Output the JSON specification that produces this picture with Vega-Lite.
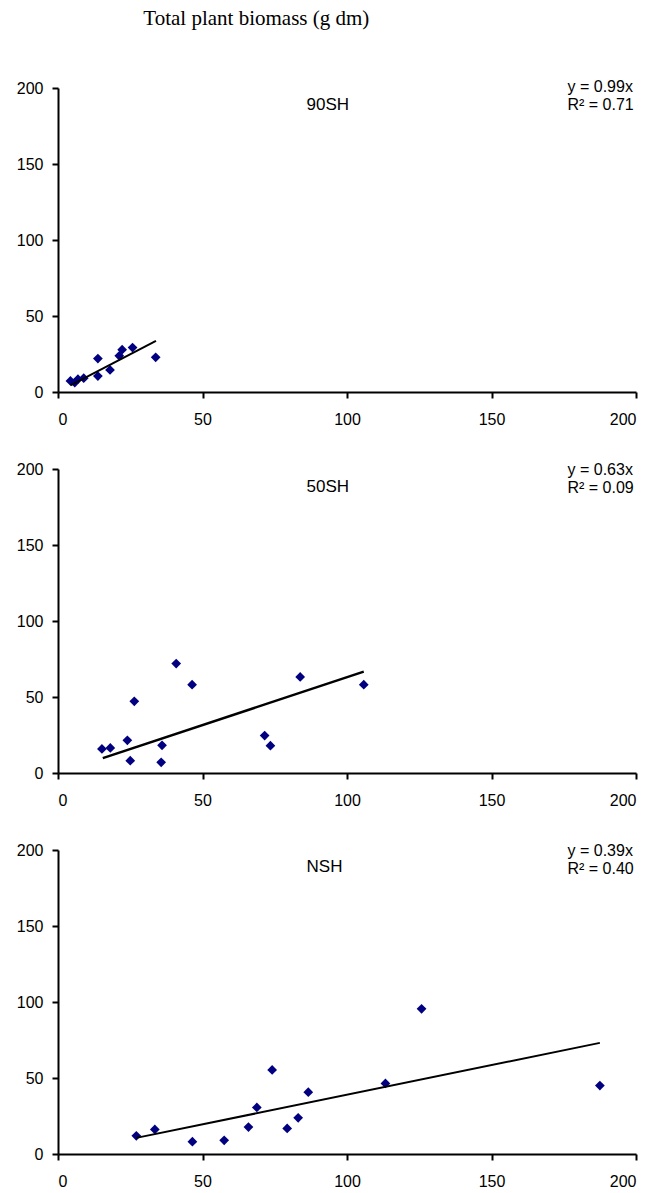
{
  "$schema": "https://vega.github.io/schema/vega-lite/v6.json",
  "padding": {"left": 16, "top": 8, "right": 5, "bottom": 2},
  "background": "white",
  "title": {
    "text": "Total plant biomass (g dm)",
    "font": "Liberation Serif",
    "fontSize": 21,
    "fontWeight": "normal",
    "color": "black",
    "anchor": "start",
    "dx": 127,
    "offset": 50
  },
  "config": {
    "view": {"stroke": null},
    "axis": {
      "domainColor": "black",
      "domainWidth": 2,
      "tickColor": "black",
      "tickWidth": 2,
      "tickSize": 6,
      "labelFont": "Liberation Sans",
      "labelFontSize": 16,
      "labelColor": "black",
      "grid": false,
      "title": null
    },
    "axisX": {"labelPadding": 13},
    "axisY": {"labelPadding": 9}
  },
  "datasets": {
    "pts": [
      {"panel": "90SH", "x": 4.3, "y": 7.3},
      {"panel": "90SH", "x": 5.8, "y": 6.2},
      {"panel": "90SH", "x": 6.9, "y": 8.4},
      {"panel": "90SH", "x": 8.9, "y": 9.1},
      {"panel": "90SH", "x": 13.8, "y": 22.0},
      {"panel": "90SH", "x": 13.8, "y": 10.5},
      {"panel": "90SH", "x": 18.0, "y": 14.5},
      {"panel": "90SH", "x": 21.2, "y": 23.8},
      {"panel": "90SH", "x": 22.2, "y": 27.8},
      {"panel": "90SH", "x": 25.8, "y": 29.2},
      {"panel": "90SH", "x": 33.8, "y": 22.8},
      {"panel": "50SH", "x": 15.2, "y": 15.8},
      {"panel": "50SH", "x": 18.1, "y": 16.5},
      {"panel": "50SH", "x": 24.0, "y": 21.5},
      {"panel": "50SH", "x": 25.0, "y": 8.1},
      {"panel": "50SH", "x": 26.4, "y": 47.2},
      {"panel": "50SH", "x": 36.0, "y": 18.2},
      {"panel": "50SH", "x": 35.7, "y": 7.0},
      {"panel": "50SH", "x": 40.9, "y": 72.0},
      {"panel": "50SH", "x": 46.4, "y": 58.1},
      {"panel": "50SH", "x": 71.5, "y": 24.6},
      {"panel": "50SH", "x": 73.5, "y": 18.0},
      {"panel": "50SH", "x": 83.8, "y": 63.2},
      {"panel": "50SH", "x": 105.8, "y": 58.1},
      {"panel": "NSH", "x": 27.1, "y": 12.0},
      {"panel": "NSH", "x": 33.5, "y": 16.2},
      {"panel": "NSH", "x": 46.5, "y": 8.1},
      {"panel": "NSH", "x": 57.5, "y": 9.0},
      {"panel": "NSH", "x": 65.9, "y": 17.7},
      {"panel": "NSH", "x": 68.8, "y": 30.6},
      {"panel": "NSH", "x": 74.1, "y": 55.3},
      {"panel": "NSH", "x": 79.3, "y": 16.8},
      {"panel": "NSH", "x": 83.1, "y": 23.8},
      {"panel": "NSH", "x": 86.6, "y": 40.7},
      {"panel": "NSH", "x": 113.3, "y": 46.4},
      {"panel": "NSH", "x": 125.8, "y": 95.5},
      {"panel": "NSH", "x": 187.5, "y": 45.0}
    ],
    "fit": [
      {"panel": "90SH", "x": 4.3, "y": 4.3},
      {"panel": "90SH", "x": 33.9, "y": 33.6},
      {"panel": "50SH", "x": 15.5, "y": 9.8},
      {"panel": "50SH", "x": 105.8, "y": 66.7},
      {"panel": "NSH", "x": 27.1, "y": 10.6},
      {"panel": "NSH", "x": 187.5, "y": 73.1}
    ],
    "ann": [
      {"panel": "90SH", "label": "90SH", "eq": "y = 0.99x\nR² = 0.71"},
      {"panel": "50SH", "label": "50SH", "eq": "y = 0.63x\nR² = 0.09"},
      {"panel": "NSH", "label": "NSH", "eq": "y = 0.39x\nR² = 0.40"}
    ]
  },
  "spacing": 34,
  "vconcat": [
    {
      "width": 578, "height": 304,
      "layer": [
        {"data": {"name": "pts"}, "transform": [{"filter": "datum.panel === '90SH'"}],
         "mark": {"type": "point", "shape": "diamond", "filled": true, "color": "#000080", "opacity": 1, "size": 95},
         "encoding": {
           "x": {"field": "x", "type": "quantitative", "scale": {"domain": [0, 200], "nice": false}, "axis": {"values": [0, 50, 100, 150, 200]}},
           "y": {"field": "y", "type": "quantitative", "scale": {"domain": [0, 200], "nice": false}, "axis": {"values": [0, 50, 100, 150, 200]}}}},
        {"data": {"name": "fit"}, "transform": [{"filter": "datum.panel === '90SH'"}],
         "mark": {"type": "line", "color": "black", "strokeWidth": 2},
         "encoding": {"x": {"field": "x", "type": "quantitative"}, "y": {"field": "y", "type": "quantitative"}}},
        {"data": {"name": "ann"}, "transform": [{"filter": "datum.panel === '90SH'"}],
         "mark": {"type": "text", "align": "left", "baseline": "middle", "font": "Liberation Sans", "fontSize": 17, "color": "black"},
         "encoding": {"text": {"field": "label"}, "x": {"datum": 86}, "y": {"datum": 189}}},
        {"data": {"name": "ann"}, "transform": [{"filter": "datum.panel === '90SH'"}],
         "mark": {"type": "text", "align": "left", "baseline": "middle", "font": "Liberation Sans", "fontSize": 16, "lineBreak": "\n", "lineHeight": 18, "color": "black"},
         "encoding": {"text": {"field": "eq"}, "x": {"datum": 176.3}, "y": {"datum": 200.5}}}
      ]
    },
    {
      "width": 578, "height": 304,
      "layer": [
        {"data": {"name": "pts"}, "transform": [{"filter": "datum.panel === '50SH'"}],
         "mark": {"type": "point", "shape": "diamond", "filled": true, "color": "#000080", "opacity": 1, "size": 95},
         "encoding": {
           "x": {"field": "x", "type": "quantitative", "scale": {"domain": [0, 200], "nice": false}, "axis": {"values": [0, 50, 100, 150, 200]}},
           "y": {"field": "y", "type": "quantitative", "scale": {"domain": [0, 200], "nice": false}, "axis": {"values": [0, 50, 100, 150, 200]}}}},
        {"data": {"name": "fit"}, "transform": [{"filter": "datum.panel === '50SH'"}],
         "mark": {"type": "line", "color": "black", "strokeWidth": 2.5},
         "encoding": {"x": {"field": "x", "type": "quantitative"}, "y": {"field": "y", "type": "quantitative"}}},
        {"data": {"name": "ann"}, "transform": [{"filter": "datum.panel === '50SH'"}],
         "mark": {"type": "text", "align": "left", "baseline": "middle", "font": "Liberation Sans", "fontSize": 17, "color": "black"},
         "encoding": {"text": {"field": "label"}, "x": {"datum": 86}, "y": {"datum": 188}}},
        {"data": {"name": "ann"}, "transform": [{"filter": "datum.panel === '50SH'"}],
         "mark": {"type": "text", "align": "left", "baseline": "middle", "font": "Liberation Sans", "fontSize": 16, "lineBreak": "\n", "lineHeight": 18, "color": "black"},
         "encoding": {"text": {"field": "eq"}, "x": {"datum": 176.3}, "y": {"datum": 199.5}}}
      ]
    },
    {
      "width": 578, "height": 304,
      "layer": [
        {"data": {"name": "pts"}, "transform": [{"filter": "datum.panel === 'NSH'"}],
         "mark": {"type": "point", "shape": "diamond", "filled": true, "color": "#000080", "opacity": 1, "size": 95},
         "encoding": {
           "x": {"field": "x", "type": "quantitative", "scale": {"domain": [0, 200], "nice": false}, "axis": {"values": [0, 50, 100, 150, 200]}},
           "y": {"field": "y", "type": "quantitative", "scale": {"domain": [0, 200], "nice": false}, "axis": {"values": [0, 50, 100, 150, 200]}}}},
        {"data": {"name": "fit"}, "transform": [{"filter": "datum.panel === 'NSH'"}],
         "mark": {"type": "line", "color": "black", "strokeWidth": 2},
         "encoding": {"x": {"field": "x", "type": "quantitative"}, "y": {"field": "y", "type": "quantitative"}}},
        {"data": {"name": "ann"}, "transform": [{"filter": "datum.panel === 'NSH'"}],
         "mark": {"type": "text", "align": "left", "baseline": "middle", "font": "Liberation Sans", "fontSize": 17, "color": "black"},
         "encoding": {"text": {"field": "label"}, "x": {"datum": 86}, "y": {"datum": 189}}},
        {"data": {"name": "ann"}, "transform": [{"filter": "datum.panel === 'NSH'"}],
         "mark": {"type": "text", "align": "left", "baseline": "middle", "font": "Liberation Sans", "fontSize": 16, "lineBreak": "\n", "lineHeight": 18, "color": "black"},
         "encoding": {"text": {"field": "eq"}, "x": {"datum": 176.3}, "y": {"datum": 199.5}}}
      ]
    }
  ]
}
